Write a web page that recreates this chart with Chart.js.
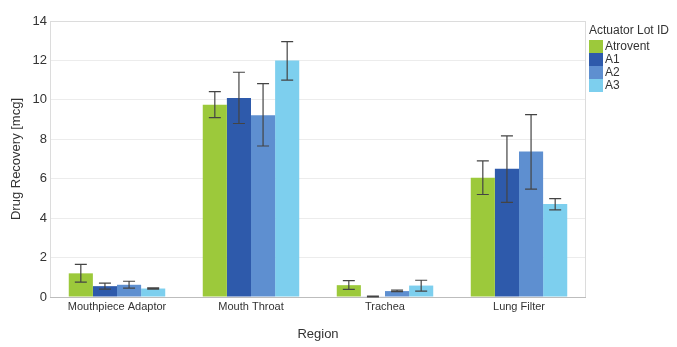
<!DOCTYPE html>
<html>
<head>
<meta charset="utf-8">
<script src="https://cdn.jsdelivr.net/npm/chart.js@4.4.1/dist/chart.umd.min.js"></script>
<style>
  html, body { margin: 0; padding: 0; background: #fff; }
  #wrap { position: relative; width: 677px; height: 347px; }
  #legend { position: absolute; left: 589px; top: 23px; font: 12px "Liberation Sans", Arial, sans-serif; color: #333; }
  #legend .title { height: 17px; line-height: 15px; }
  #legend .item { height: 13px; line-height: 13px; display: flex; align-items: center; }
  #legend .box { width: 14px; height: 13px; margin-right: 2px; }
</style>
</head>
<body>
<div id="wrap">
  <canvas id="chart" width="677" height="347"></canvas>
  <div id="legend"></div>
</div>
<script>
// === Données ===
const regions = ['Mouthpiece Adaptor', 'Mouth Throat', 'Trachea', 'Lung Filter'];
const seriesNames = ['Atrovent', 'A1', 'A2', 'A3'];
const seriesColors = ['#9cc93b', '#2e5aab', '#5e8fd0', '#7dcfee'];

const atrovent = [1.2, 9.75, 0.6, 6.05];
const a1 = [0.55, 10.1, 0.03, 6.5];
const a2 = [0.62, 9.22, 0.3, 7.38];
const a3 = [0.43, 12.0, 0.58, 4.72];

// bornes des barres d'erreur
const atroventLow = [0.75, 9.1, 0.39, 5.2];
const atroventHigh = [1.65, 10.42, 0.83, 6.9];
const a1Low = [0.4, 8.8, 0.01, 4.8];
const a1High = [0.7, 11.4, 0.05, 8.17];
const a2Low = [0.45, 7.66, 0.27, 5.47];
const a2High = [0.8, 10.82, 0.35, 9.25];
const a3Low = [0.4, 11.0, 0.3, 4.42];
const a3High = [0.46, 12.95, 0.85, 4.99];

const yTicks = [0, 2, 4, 6, 8, 10, 12, 14];

const values = [atrovent, a1, a2, a3];
const lows = [atroventLow, a1Low, a2Low, a3Low];
const highs = [atroventHigh, a1High, a2High, a3High];

// === Barres d'erreur ===
const errorBars = {
  id: 'errorBars',
  afterDatasetsDraw(chart) {
    const ctx = chart.ctx;
    const y = chart.scales.y;
    ctx.save();
    ctx.strokeStyle = '#444';
    ctx.lineWidth = 1.2;
    chart.data.datasets.forEach((ds, i) => {
      const meta = chart.getDatasetMeta(i);
      meta.data.forEach((bar, j) => {
        const lo = y.getPixelForValue(lows[i][j]);
        const hi = y.getPixelForValue(highs[i][j]);
        const x = bar.x;
        ctx.beginPath();
        ctx.moveTo(x, lo); ctx.lineTo(x, hi);
        ctx.moveTo(x - 6, lo); ctx.lineTo(x + 6, lo);
        ctx.moveTo(x - 6, hi); ctx.lineTo(x + 6, hi);
        ctx.stroke();
      });
    });
    ctx.restore();
  }
};

// cadre de la zone de tracé
const plotFrame = {
  id: 'plotFrame',
  beforeDatasetsDraw(chart) {
    const { ctx, chartArea: a } = chart;
    ctx.save();
    ctx.strokeStyle = '#dcdcdc';
    ctx.lineWidth = 1;
    ctx.strokeRect(a.left + 0.5, a.top + 0.5, a.right - a.left - 1, a.bottom - a.top);
    ctx.strokeStyle = '#bdbdbd';
    ctx.beginPath();
    ctx.moveTo(a.left, a.bottom + 0.5); ctx.lineTo(a.right, a.bottom + 0.5);
    ctx.stroke();
    ctx.restore();
  }
};

const font = 'Liberation Sans, Arial, sans-serif';

new Chart(document.getElementById('chart'), {
  type: 'bar',
  data: {
    labels: regions,
    datasets: seriesNames.map((name, i) => ({
      label: name,
      data: values[i],
      backgroundColor: seriesColors[i],
      borderWidth: 0,
      categoryPercentage: 0.72,
      barPercentage: 1
    }))
  },
  options: {
    responsive: false,
    animation: false,
    layout: { padding: { top: 21, right: 91, left: 0, bottom: 0 } },
    plugins: { legend: { display: false }, tooltip: { enabled: false } },
    scales: {
      x: {
        grid: { display: false, drawTicks: false },
        border: { display: false },
        ticks: { color: '#333', padding: 3, font: { family: font, size: 11 } },
        title: { display: true, text: 'Region', color: '#333', padding: { top: 0, bottom: 5 }, font: { family: font, size: 13 } },
        afterFit: s => { s.height = 50; }
      },
      y: {
        min: 0,
        max: 14,
        afterBuildTicks: s => { s.ticks = yTicks.map(v => ({ value: v })); },
        grid: { color: '#ececec', drawTicks: false },
        border: { display: false },
        ticks: { color: '#333', padding: 3, font: { family: font, size: 13 } },
        title: { display: true, text: 'Drug Recovery [mcg]', color: '#333', padding: { top: 9, bottom: 0 }, font: { family: font, size: 13 } },
        afterFit: s => { s.width = 50; }
      }
    }
  },
  plugins: [plotFrame, errorBars]
});

// === Légende ===
const legend = document.getElementById('legend');
const title = document.createElement('div');
title.className = 'title';
title.textContent = 'Actuator Lot ID';
legend.appendChild(title);
seriesNames.forEach((name, i) => {
  const item = document.createElement('div');
  item.className = 'item';
  item.innerHTML = `<span class="box" style="background:${seriesColors[i]}"></span><span>${name}</span>`;
  legend.appendChild(item);
});
</script>
</body>
</html>
